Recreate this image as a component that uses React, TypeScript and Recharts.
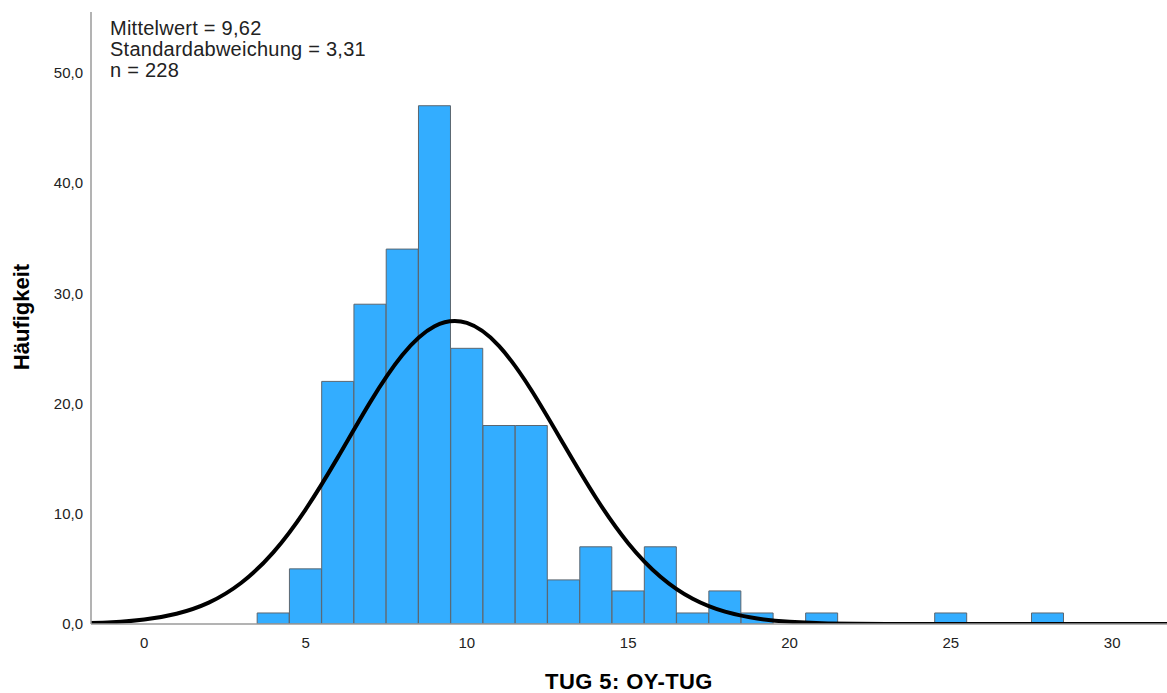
import React from "react";
import { ComposedChart, Bar, Line, XAxis, YAxis } from "recharts";

const binCenters = [-2, -1, 0, 1, 2, 3, 4, 5, 6, 7, 8, 9, 10, 11, 12, 13, 14, 15, 16, 17, 18, 19, 20, 21, 22, 23, 24, 25, 26, 27, 28, 29, 30, 31, 32];
const counts = [0, 0, 0, 0, 0, 0, 1, 5, 22, 29, 34, 47, 25, 18, 18, 4, 7, 3, 7, 1, 3, 1, 0, 1, 0, 0, 0, 1, 0, 0, 1, 0, 0, 0, 0];
const normalCurve = [0.06, 0.16, 0.4, 0.93, 1.94, 3.72, 6.5, 10.38, 15.11, 20.1, 24.39, 27.0, 27.3, 25.2, 21.2, 16.3, 11.45, 7.33, 4.29, 2.29, 1.12, 0.5, 0.2, 0.07, 0.03, 0.01, 0, 0, 0, 0, 0, 0, 0, 0, 0];
const xTicks = [0, 5, 10, 15, 20, 25, 30];
const yTicks = [0, 10, 20, 30, 40, 50];
const statLines = ["Mittelwert = 9,62", "Standardabweichung = 3,31", "n = 228"];
const xTitle = "TUG 5: OY-TUG";
const yTitle = "Häufigkeit";

const data = binCenters.map((x, i) => ({
  x,
  count: counts[i] > 0 ? counts[i] : null,
  curve: normalCurve[i],
}));

const FONT = "'Liberation Sans', Arial, sans-serif";

export default function App() {
  return (
    <div style={{ position: "relative", width: 1167, height: 693, fontFamily: FONT, background: "#fff" }}>
      <style>{"body{margin:0}"}</style>
      <ComposedChart
        width={1167}
        height={693}
        data={data}
        margin={{ top: 12, right: 0, bottom: 39, left: 31 }}
        barCategoryGap={0}
        barGap={0}
      >
        <XAxis
          dataKey="x"
          type="number"
          domain={[-1.65, 31.7]}
          allowDataOverflow
          ticks={xTicks}
          tickLine={false}
          tickMargin={7}
          height={30}
          axisLine={{ stroke: "#9a9a9a", strokeWidth: 1.5 }}
          tick={{ fill: "#222", fontSize: 15, fontFamily: FONT }}
        />
        <YAxis
          type="number"
          domain={[0, 55.5]}
          allowDataOverflow
          ticks={yTicks}
          width={60}
          tickLine={false}
          axisLine={{ stroke: "#9a9a9a", strokeWidth: 1.5 }}
          tick={{ fill: "#222", fontSize: 15, fontFamily: FONT }}
          tickFormatter={(v: number) => v.toFixed(1).replace(".", ",")}
        />
        <Bar dataKey="count" fill="#33adff" stroke="#5b6670" strokeWidth={1} isAnimationActive={false} />
        <Line
          dataKey="curve"
          type="natural"
          stroke="#000"
          strokeWidth={4}
          dot={false}
          activeDot={false}
          isAnimationActive={false}
        />
      </ComposedChart>
      <div style={{ position: "absolute", left: 110, top: 18, fontSize: 20, letterSpacing: "0.25px", lineHeight: "21px", color: "#222", whiteSpace: "nowrap" }}>
        {statLines.map((s) => (
          <div key={s}>{s}</div>
        ))}
      </div>
      <div
        style={{
          position: "absolute",
          left: 22,
          top: 317,
          transform: "translate(-50%, -50%) rotate(-90deg)",
          fontSize: 22,
          fontWeight: "bold",
          color: "#000",
          whiteSpace: "nowrap",
        }}
      >
        {yTitle}
      </div>
      <div
        style={{
          position: "absolute",
          left: 629,
          top: 682,
          transform: "translate(-50%, -50%)",
          fontSize: 22,
          letterSpacing: "0.4px",
          fontWeight: "bold",
          color: "#000",
          whiteSpace: "nowrap",
        }}
      >
        {xTitle}
      </div>
    </div>
  );
}
